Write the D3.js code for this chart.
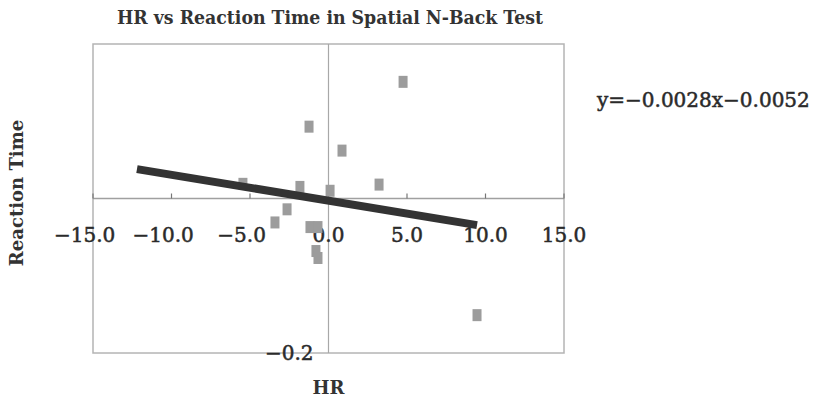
<!DOCTYPE html>
<html>
<head>
<meta charset="utf-8">
<script src="https://cdn.jsdelivr.net/npm/d3@7"></script>
<style>
	body { margin: 0; background: #fff; }
</style>
</head>
<body>
<svg></svg>
<script>
// data
const hr = [4.75, -1.24, 0.86, -5.45, -1.82, 0.10, 3.22, -2.64, -3.41, -1.18, -0.67, -0.80, -0.67, 9.46];
const reactionTime = [0.151, 0.093, 0.062, 0.019, 0.015, 0.010, 0.018, -0.014, -0.031, -0.037, -0.037, -0.068, -0.077, -0.151];
const fitX = [-12.2, 9.46];
const fitY = [0.038, -0.0345];
const xTicks = [-15, -10, -5, 0, 5, 10, 15];
const yTicks = [-0.2];
const equation = "y=\u22120.0028x\u22120.0052";

const width = 828;
const height = 400;
const plot = { left: 93, right: 564, top: 44, bottom: 353 };

const svg = d3.select("svg")
	.attr("width", width)
	.attr("height", height);

const x = d3.scaleLinear().domain([-15, 15]).range([plot.left, plot.right]);
const y = d3.scaleLinear().domain([-0.2, 0.2]).range([plot.bottom, plot.top]);

const font = "'DejaVu Serif', serif";
const ink = "#2a2a2a";
const minus = s => s.replace("-", "\u2212");

// frame
svg.append("rect")
	.attr("x", plot.left)
	.attr("y", plot.top)
	.attr("width", plot.right - plot.left)
	.attr("height", plot.bottom - plot.top)
	.attr("fill", "none")
	.attr("stroke", "#b4b4b4")
	.attr("stroke-width", 1.5);

// zero lines
svg.append("line")
	.attr("x1", plot.left).attr("x2", plot.right)
	.attr("y1", y(0)).attr("y2", y(0))
	.attr("stroke", "#a0a0a0")
	.attr("stroke-width", 1.5);

svg.append("line")
	.attr("x1", x(0)).attr("x2", x(0))
	.attr("y1", plot.top).attr("y2", plot.bottom)
	.attr("stroke", "#a8a8a8")
	.attr("stroke-width", 1.2);

// x ticks sit on the zero line
svg.selectAll(".xtick")
	.data(xTicks)
	.join("line")
	.attr("class", "xtick")
	.attr("x1", d => x(d)).attr("x2", d => x(d))
	.attr("y1", y(0)).attr("y2", y(0) - 5)
	.attr("stroke", "#777")
	.attr("stroke-width", 1.2);

// minus sign hangs to the left of the centred digits
const probe = svg.append("text")
	.attr("font-family", font)
	.attr("font-size", 20)
	.text("\u2212");
const minusWidth = probe.node().getComputedTextLength();
probe.remove();

svg.selectAll(".xlabel")
	.data(xTicks)
	.join("text")
	.attr("class", "xlabel")
	.attr("x", d => x(d) - (d < 0 ? minusWidth / 2 : 0))
	.attr("y", 242)
	.attr("text-anchor", "middle")
	.attr("font-family", font)
	.attr("font-size", 20)
	.attr("fill", ink)
	.attr("stroke", ink)
	.attr("stroke-width", 0.5)
	.text(d => minus(d3.format(".1f")(d)));

svg.selectAll(".ylabel")
	.data(yTicks)
	.join("text")
	.attr("class", "ylabel")
	.attr("x", x(0) - 15)
	.attr("y", d => y(d) + 7)
	.attr("text-anchor", "end")
	.attr("font-family", font)
	.attr("font-size", 20)
	.attr("fill", ink)
	.attr("stroke", ink)
	.attr("stroke-width", 0.5)
	.text(d => minus(d3.format(".1f")(d)));

// points
const points = hr.map((d, i) => ({ x: d, y: reactionTime[i] }));

svg.selectAll(".pt")
	.data(points)
	.join("rect")
	.attr("class", "pt")
	.attr("x", d => x(d.x) - 4.5)
	.attr("y", d => y(d.y) - 6)
	.attr("width", 9)
	.attr("height", 12)
	.attr("fill", "#9c9c9c");

// fitted line
svg.append("path")
	.datum(fitX.map((d, i) => [d, fitY[i]]))
	.attr("fill", "none")
	.attr("stroke", "#333")
	.attr("stroke-width", 8)
	.attr("d", d3.line().x(d => x(d[0])).y(d => y(d[1])));

// titles
svg.append("text")
	.attr("x", 330)
	.attr("y", 24)
	.attr("text-anchor", "middle")
	.attr("font-family", font)
	.attr("font-weight", "bold")
	.attr("font-size", 18.5)
	.attr("textLength", 426)
	.attr("lengthAdjust", "spacingAndGlyphs")
	.attr("fill", "#333")
	.text("HR vs Reaction Time in Spatial N-Back Test");

svg.append("text")
	.attr("x", x(0))
	.attr("y", 394)
	.attr("text-anchor", "middle")
	.attr("font-family", font)
	.attr("font-weight", "bold")
	.attr("font-size", 18)
	.attr("fill", "#333")
	.text("HR");

svg.append("text")
	.attr("transform", "translate(23,193) rotate(-90)")
	.attr("text-anchor", "middle")
	.attr("font-family", font)
	.attr("font-weight", "bold")
	.attr("font-size", 18)
	.attr("fill", "#333")
	.text("Reaction Time");

svg.append("text")
	.attr("x", 597)
	.attr("y", 107)
	.attr("font-family", font)
	.attr("font-size", 20)
	.attr("fill", ink)
	.attr("stroke", ink)
	.attr("stroke-width", 0.5)
	.text(equation);
</script>
</body>
</html>
